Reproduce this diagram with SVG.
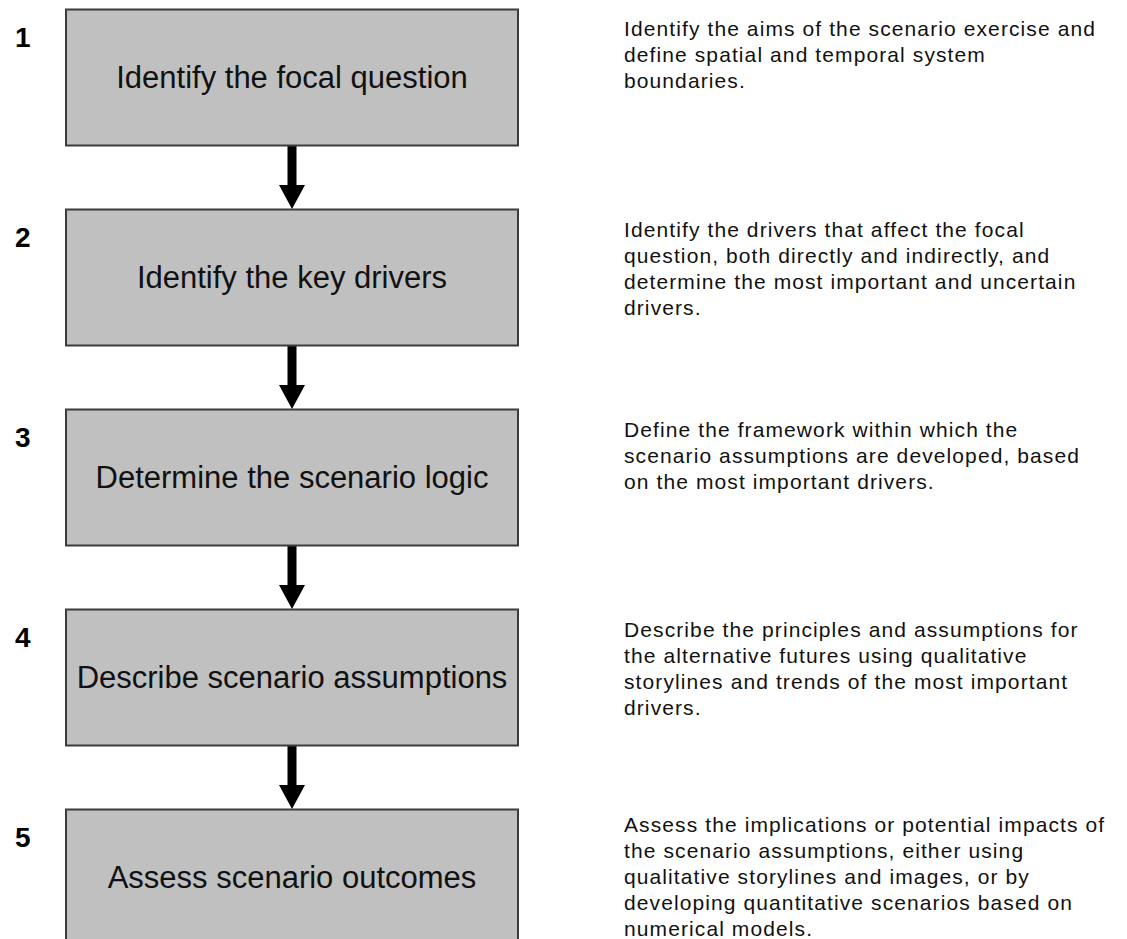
<svg xmlns="http://www.w3.org/2000/svg" width="1127" height="939" viewBox="0 0 1127 939">
<defs>
<style>
.box{fill:#c0c0c0;stroke:#3c3c3c;stroke-width:2}
.lbl{font-family:"Liberation Sans",Arial,sans-serif;font-size:31px;fill:#111;text-anchor:middle}
.num{font-family:"Liberation Sans",Arial,sans-serif;font-size:28px;font-weight:bold;fill:#000}
.desc{font-family:"Liberation Sans",Arial,sans-serif;font-size:21px;fill:#111;letter-spacing:1.1px}
.shaft{fill:#000}
</style>
</defs>
<rect width="1127" height="939" fill="#fff"/>
<g id="connectors">
<path class="shaft" d="M287.5 146 H296.5 V185 H305 L292 209 L279 185 H287.5 Z"/>
<path class="shaft" d="M287.5 346 H296.5 V385 H305 L292 409 L279 385 H287.5 Z"/>
<path class="shaft" d="M287.5 546 H296.5 V585 H305 L292 609 L279 585 H287.5 Z"/>
<path class="shaft" d="M287.5 746 H296.5 V785 H305 L292 809 L279 785 H287.5 Z"/>
</g>
<g id="step1">
<text class="num" x="15" y="47">1</text>
<rect class="box" x="66" y="9.5" width="452" height="136"/>
<text class="lbl" x="292" y="88">Identify the focal question</text>
<text class="desc"><tspan x="624" y="36">Identify the aims of the scenario exercise and</tspan><tspan x="624" y="62">define spatial and temporal system</tspan><tspan x="624" y="88">boundaries.</tspan></text>
</g>
<g id="step2">
<text class="num" x="15" y="247">2</text>
<rect class="box" x="66" y="209.5" width="452" height="136"/>
<text class="lbl" x="292" y="288">Identify the key drivers</text>
<text class="desc"><tspan x="624" y="237">Identify the drivers that affect the focal</tspan><tspan x="624" y="263">question, both directly and indirectly, and</tspan><tspan x="624" y="289">determine the most important and uncertain</tspan><tspan x="624" y="315">drivers.</tspan></text>
</g>
<g id="step3">
<text class="num" x="15" y="447">3</text>
<rect class="box" x="66" y="409.5" width="452" height="136"/>
<text class="lbl" x="292" y="488">Determine the scenario logic</text>
<text class="desc"><tspan x="624" y="437">Define the framework within which the</tspan><tspan x="624" y="463">scenario assumptions are developed, based</tspan><tspan x="624" y="489">on the most important drivers.</tspan></text>
</g>
<g id="step4">
<text class="num" x="15" y="647">4</text>
<rect class="box" x="66" y="609.5" width="452" height="136"/>
<text class="lbl" x="292" y="688">Describe scenario assumptions</text>
<text class="desc"><tspan x="624" y="637">Describe the principles and assumptions for</tspan><tspan x="624" y="663">the alternative futures using qualitative</tspan><tspan x="624" y="689">storylines and trends of the most important</tspan><tspan x="624" y="715">drivers.</tspan></text>
</g>
<g id="step5">
<text class="num" x="15" y="847">5</text>
<rect class="box" x="66" y="809.5" width="452" height="140"/>
<text class="lbl" x="292" y="888">Assess scenario outcomes</text>
<text class="desc"><tspan x="624" y="832">Assess the implications or potential impacts of</tspan><tspan x="624" y="858">the scenario assumptions, either using</tspan><tspan x="624" y="884">qualitative storylines and images, or by</tspan><tspan x="624" y="910">developing quantitative scenarios based on</tspan><tspan x="624" y="936">numerical models.</tspan></text>
</g>
</svg>
